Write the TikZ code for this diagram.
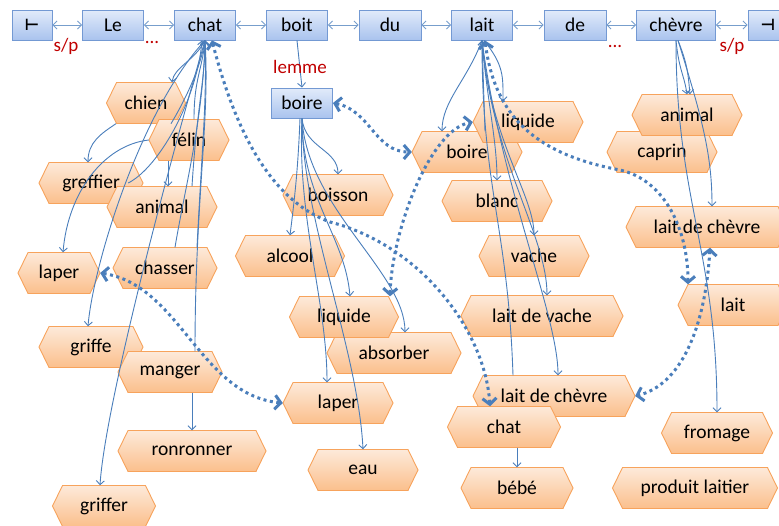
\documentclass[tikz,border=0pt]{standalone}
\usepackage{fontspec}
\setmainfont{Carlito}
\newfontfamily\dejavu{DejaVu Sans}
\usetikzlibrary{arrows.meta,calc}
\definecolor{hexdraw}{HTML}{F7A35C}
\definecolor{hextop}{HTML}{FDEADA}
\definecolor{hexbot}{HTML}{FBBF8C}
\definecolor{boxtop}{HTML}{E2EBFA}
\definecolor{boxbot}{HTML}{A9C3EE}
\definecolor{boxdraw}{HTML}{7399D3}
\definecolor{lnc}{HTML}{4A7EBB}
\definecolor{redc}{HTML}{C00000}
\tikzset{
 hexshape/.style={draw=hexdraw, line width=0.9pt, top color=hextop, bottom color=hexbot},
 hextext/.style={inner sep=0pt, minimum height=41pt, font=\fontsize{19.5}{22}\selectfont},
 wordbox/.style={draw=boxdraw, line width=0.9pt, top color=boxtop, bottom color=boxbot, minimum height=30pt, inner sep=0pt, font=\fontsize{19.5}{22}\selectfont},
 ln/.style={draw=lnc, line width=0.9pt},
 arr/.style={ln, -{Straight Barb[length=4pt,width=8pt]}},
 seq/.style={draw=lnc!75, line width=0.8pt, {Straight Barb[length=4pt,width=8pt]}-{Straight Barb[length=4pt,width=8pt]}},
 dotl/.style={draw=lnc, line width=3pt, dash pattern=on 3pt off 3.5pt, {Straight Barb[length=6pt,width=14pt]}-{Straight Barb[length=6pt,width=14pt]}},
 redlab/.style={text=redc, font=\fontsize{19}{22}\selectfont, inner sep=0pt},
}
\newcommand\hexa[5]{%
 \path[hexshape] ({#2-#4/2},#3) -- ({#2-#4/2+10},{#3-20.5}) -- ({#2+#4/2-10},{#3-20.5}) -- ({#2+#4/2},#3) -- ({#2+#4/2-10},{#3+20.5}) -- ({#2-#4/2+10},{#3+20.5}) -- cycle;
 \node[hextext,minimum width=#4pt] (#1) at (#2,#3) {#5};}
\begin{document}
\begin{tikzpicture}[x=1pt,y=-1pt]
\useasboundingbox (0,0) rectangle (779,525);
\clip (0,0) rectangle (779,525);
% sentence
\node[wordbox,minimum width=40pt] (tL) at (32,25) {\dejavu\bfseries\fontsize{16}{18}\selectfont ⊢};
\node[wordbox,minimum width=61pt] (le) at (113,25) {Le};
\node[wordbox,minimum width=61pt] (chat) at (205,25) {chat};
\node[wordbox,minimum width=61pt] (boit) at (297,25) {boit};
\node[wordbox,minimum width=62pt] (du) at (390,25) {du};
\node[wordbox,minimum width=61pt] (lait) at (482,25) {lait};
\node[wordbox,minimum width=62pt] (de) at (575,25) {de};
\node[wordbox,minimum width=79pt] (chevre) at (676,25) {chèvre};
\node[wordbox,minimum width=40pt] (tR) at (768,25) {\dejavu\bfseries\fontsize{16}{18}\selectfont ⊣};
\node[wordbox,minimum width=61pt] (boire) at (302,103) {boire};
% chat cluster
\hexa{chien}{146}{103}{79}{chien}
\hexa{felin}{189}{140}{80}{félin}
\hexa{greffier}{91}{183}{104}{greffier}
\hexa{animalA}{162}{207}{110}{animal}
\hexa{laperA}{59}{273}{82}{laper}
\hexa{chasser}{165}{268}{104}{chasser}
\hexa{griffe}{91}{347}{104}{griffe}
\hexa{manger}{170}{372}{104}{manger}
\hexa{ronronner}{192}{451}{148}{ronronner}
\hexa{griffer}{104}{506}{103}{griffer}
% boire cluster
\hexa{boisson}{338}{195}{110}{boisson}
\hexa{alcool}{290}{256}{109}{alcool}
\hexa{absorber}{394}{353}{134}{absorber}
\hexa{liquideA}{344}{317}{109}{liquide}
\hexa{laperB}{338}{403}{110}{laper}
\hexa{eau}{363}{470}{110}{eau}
% lait cluster
\hexa{boireB}{467}{152}{110}{boire}
\hexa{liquideB}{528}{122}{110}{liquide}
\hexa{blanc}{497}{201}{110}{blanc}
\hexa{vache}{534}{256}{110}{vache}
\hexa{laitvache}{542}{316}{162}{lait de vache}
\hexa{laitchevreA}{554}{396}{162}{lait de chèvre}
\hexa{chatB}{504}{427}{113}{chat}
\hexa{bebe}{517}{488}{112}{bébé}
% chevre cluster
\hexa{caprin}{662}{152}{110}{caprin}
\hexa{animalB}{687}{115}{110}{animal}
\hexa{laitchevreB}{707}{227}{162}{lait de chèvre}
\hexa{laitB}{733}{305}{110}{lait}
\hexa{fromage}{717}{433}{111}{fromage}
\hexa{produit}{695}{488}{165}{produit laitier}
% sequence arrows
\draw[seq] (tL) -- (le);
\draw[seq] (le) -- (chat);
\draw[seq] (chat) -- (boit);
\draw[seq] (boit) -- (du);
\draw[seq] (du) -- (lait);
\draw[seq] (lait) -- (de);
\draw[seq] (de) -- (chevre);
\draw[seq] (chevre) -- (tR);
\draw[arr] (boit.south) -- (boire.north);
% chat links
\draw[arr] (chat.south) .. controls +(-10,20) and +(2,-15) .. ([xshift=26pt]chien.north);
\draw[arr] ([xshift=-30pt]chien.south) .. controls +(-15,10) and +(0,-20) .. ([xshift=-3pt]greffier.north);
\draw[arr] ([xshift=25pt]chien.south) .. controls +(12,-20) and +(-5,30) .. (chat.south);
\draw[arr] ([xshift=5pt]felin.north) .. controls +(0,-40) and +(-3,30) .. (chat.south);
\draw[arr] (felin.west) .. controls +(-45,5) and +(5,-60) .. ([xshift=4pt]laperA.north);
\draw[arr] ([xshift=-21pt]felin.south) -- ([xshift=6pt]animalA.north);
\draw[arr] ([xshift=-15pt]greffier.east) .. controls +(30,-15) and +(-5,60) .. ([xshift=-3pt]chat.south);
\draw[arr] ([xshift=30pt]animalA.north) .. controls +(5,-80) and +(0,40) .. (chat.south);
\draw[arr] ([xshift=10pt]chasser.north) .. controls +(10,-60) and +(-2,80) .. (chat.south);
\draw[arr] ([xshift=32pt]chasser.north) .. controls +(5,-100) and +(2,60) .. (chat.south);
\draw[arr] ([xshift=25pt]manger.north) .. controls +(0,-150) and +(5,80) .. (chat.south);
\draw[arr] (chat.south) .. controls +(-65,70) and +(5,-60) .. ([xshift=-3pt]griffe.north);
\draw[arr] (chat.south) .. controls +(-35,120) and +(5,-80) .. ([xshift=-4pt]griffer.north);
\draw[arr] ([xshift=22pt]manger.south) -- (ronronner.north);
% boire links
\draw[arr] (boire.south) .. controls +(3,30) and +(0,-25) .. (boisson.north);
\draw[arr] ([xshift=-2pt]boire.south) .. controls +(-2,50) and +(5,-40) .. (alcool.north);
\draw[arr] (boire.south) .. controls +(0,80) and +(-5,-60) .. ([xshift=6pt]liquideA.north);
\draw[arr] (boire.south) .. controls +(5,90) and +(0,-60) .. ([xshift=11pt]absorber.north);
\draw[arr] (boire.south) .. controls +(-5,100) and +(0,-80) .. ([xshift=-11pt]laperB.north);
\draw[arr] (boire.south) .. controls +(0,100) and +(-5,-100) .. (eau.north);
% lait links
\draw[arr] (lait.south) .. controls +(-15,40) and +(0,-30) .. ([xshift=-25pt]boireB.north);
\draw[arr] ([xshift=2pt]lait.south) .. controls +(20,25) and +(0,-25) .. ([xshift=-25pt]liquideB.north);
\draw[arr] ([xshift=18pt]boireB.north) -- (lait.south);
\draw[arr] (lait.south) .. controls +(5,60) and +(0,-40) .. (blanc.north);
\draw[arr] (lait.south) .. controls +(8,100) and +(0,-40) .. (vache.north);
\draw[arr] (lait.south) .. controls +(10,120) and +(0,-60) .. ([xshift=5pt]laitvache.north);
\draw[arr] (lait.south) .. controls +(20,150) and +(0,-60) .. ([xshift=4pt]laitchevreA.north);
\draw[arr] ([xshift=-41pt]laitchevreA.north) .. controls +(-5,-150) and +(0,150) .. (lait.south);
\draw[arr] ([xshift=13pt]chatB.south) -- (bebe.north);
% chevre links
\draw[arr] (chevre.south) .. controls +(3,30) and +(-3,-20) .. (animalB.north);
\draw[arr] ([xshift=2pt]chevre.south) .. controls +(10,25) and +(-2,-20) .. ([xshift=3pt]animalB.north);
\draw[arr] ([xshift=2pt]chevre.south) .. controls +(25,80) and +(0,-50) .. ([xshift=5pt]laitchevreB.north);
\draw[arr] (chevre.south) .. controls +(0,160) and +(0,-160) .. (fromage.north);
% dotted relations
\draw[dotl] ([xshift=7pt]chat.south) .. controls (235,130) and (270,200) .. (330,222) .. controls (420,245) and (485,330) .. ([xshift=-14pt]chatB.north);
\draw[dotl] (boire.east) .. controls (370,110) and (375,152) .. (boireB.west);
\draw[dotl] ([xshift=46pt]liquideA.north) .. controls (392,230) and (430,130) .. (liquideB.west);
\draw[dotl] (laperA.east) .. controls (180,285) and (200,395) .. (laperB.west);
\draw[dotl] ([xshift=3pt]lait.south) .. controls (495,120) and (540,155) .. (620,170) .. controls (665,180) and (688,230) .. ([xshift=-45pt]laitB.north);
\draw[dotl] ([xshift=3pt]laitchevreB.south) .. controls (705,330) and (680,385) .. (laitchevreA.east);
% labels
\node[redlab] (sp1) at (66,46) {s/p};
\node[redlab] (dots1) at (152,42) {...};
\node[redlab] (lem) at (300,67) {lemme};
\node[redlab] (dots2) at (615,46) {...};
\node[redlab] (sp2) at (732,46) {s/p};
\end{tikzpicture}
\end{document}
